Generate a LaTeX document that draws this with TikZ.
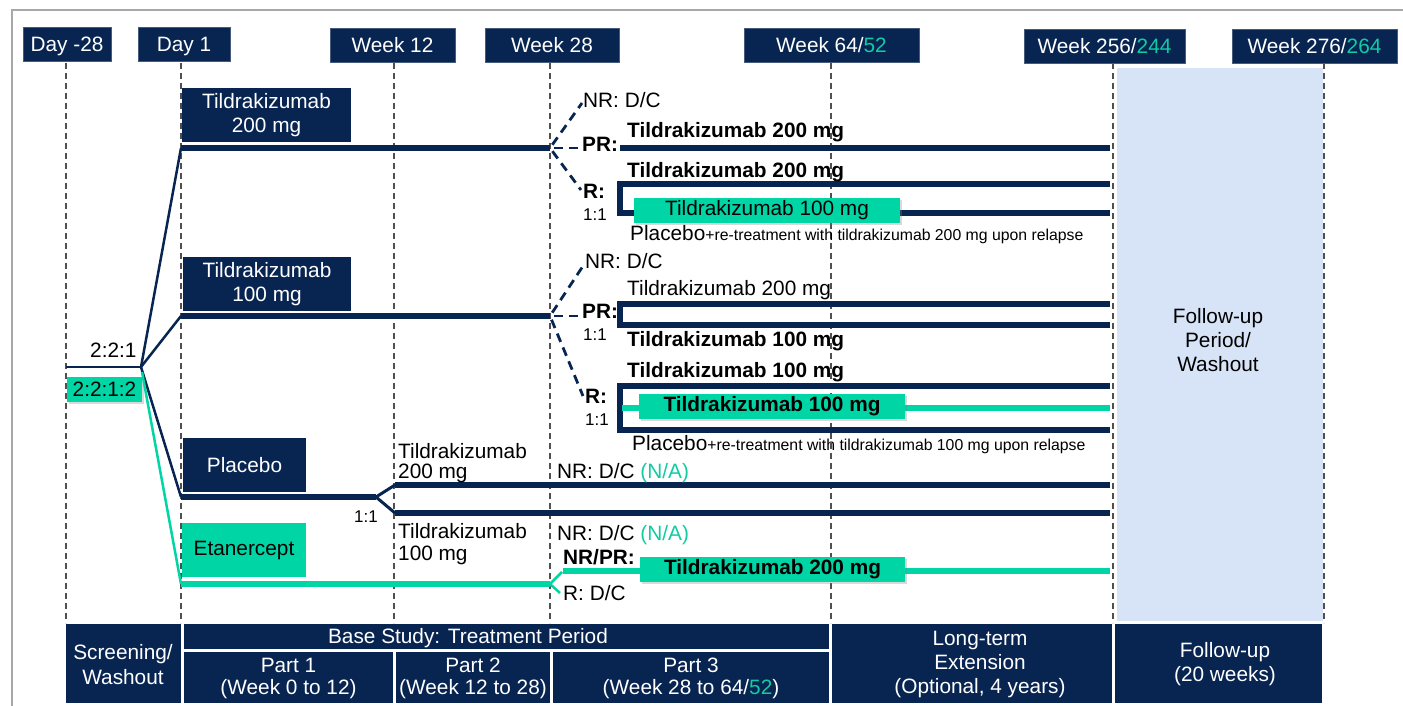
\documentclass[tikz,border=0pt]{standalone}
\usepackage{fontspec}
\setmainfont{Liberation Sans}
\usetikzlibrary{shadows}
\definecolor{navy}{HTML}{082552}
\definecolor{mint}{HTML}{00D5A6}
\definecolor{minttext}{HTML}{12CBA3}
\definecolor{fublue}{HTML}{D7E4F8}
\definecolor{framegray}{HTML}{A8A8A8}
\definecolor{guidegray}{HTML}{505050}
\newcommand\fsMain{\fontsize{20.8}{24}\selectfont}
\newcommand\fsSmall{\fontsize{15.8}{19}\selectfont}
\newcommand\fsRatio{\fontsize{17}{20}\selectfont}
\newcommand\mintc[1]{\textcolor{minttext}{#1}}

\begin{document}
\begin{tikzpicture}[x=1pt,y=-1pt,
  every node/.style={font=\fsMain,inner sep=0pt},
  hdr/.style={fill=navy,draw=navy!75!white,line width=0.8pt,text=white,
    minimum height=34pt,text height=15pt,text depth=0pt},
  armbox/.style={fill=navy,text=white,align=center,minimum height=54pt},
  mintbox/.style={fill=mint,text=black,minimum height=25pt,
    drop shadow={opacity=0.3,shadow xshift=2pt,shadow yshift=-2pt}},
  cell/.style={fill=navy},
  celltext/.style={text=white,anchor=base},
  lbl/.style={anchor=base west},
  blbl/.style={anchor=base west,font=\fsMain\bfseries},
  slbl/.style={anchor=base west,font=\fsRatio},
  guide/.style={draw=guidegray,line width=1.4pt,dash pattern=on 6pt off 4pt},
  fan/.style={draw=navy,line width=2.5pt},
  arm/.style={draw=navy,line width=5.8pt},
  mintarm/.style={draw=mint,line width=5.8pt},
  branch/.style={draw=navy,line width=2.8pt,dash pattern=on 9pt off 6pt,dash phase=-4pt},
]
\useasboundingbox (0,0) rectangle (1403,706);

% outer frame
\draw[framegray,line width=2.5pt] (12,706) -- (12,10) -- (1403,10);

% follow-up period shading
\fill[fublue] (1117,68) rectangle (1323,621);
\node (fuA) at (1218,323) [anchor=base] {Follow-up};
\node (fuB) at (1218,347) [anchor=base] {Period/};
\node (fuC) at (1218,371) [anchor=base] {Washout};

% time-point guides
\foreach \n/\x in {0/66,1/181,2/394,3/550,4/831,5/1113,6/1324}{
  \coordinate (gt\n) at (\x,63);
  \coordinate (gb\n) at (\x,623);
  \draw[guide] (gt\n) -- (gb\n);
}

% time-point headers
\node[hdr,minimum width=88pt]  (hDm28) at (67,44)     {Day -28};
\node[hdr,minimum width=92pt]  (hD1)   at (184,44)    {Day 1};
\node[hdr,minimum width=125pt] (hW12)  at (392.5,45)  {Week 12};
\node[hdr,minimum width=134pt] (hW28)  at (552,45)    {Week 28};
\node[hdr,minimum width=175pt] (hW64)  at (831.5,45)  {Week 64/\mintc{52}};
\node[hdr,minimum width=161pt] (hW256) at (1104.5,46) {Week 256/\mintc{244}};
\node[hdr,minimum width=165pt] (hW276) at (1314.5,46) {Week 276/\mintc{264}};

% randomisation fan
\coordinate (r0) at (66,367);
\coordinate (fanN) at (141,367);
\coordinate (fanM) at (142,372);
\coordinate (a1) at (181,148);
\coordinate (a2) at (181,316);
\coordinate (a3) at (181,497);
\coordinate (a4) at (181,584);
\draw[navy,line width=2pt] (r0) -- (fanN);
\node[lbl] (ratioA) at (90,357) {2:2:1};
\node[mintbox,minimum width=75pt] (ratioB) at (104.5,389.5) {2:2:1:2};
\draw[fan] (fanN) -- (a1);
\draw[fan] (fanN) -- (a2);
\draw[fan] (fanN) -- (a3);
\draw[mint,line width=2.5pt] (fanM) -- (a4);

% arm boxes
\node[armbox,minimum width=169pt] (boxT200) at (266.5,115) {Tildrakizumab\\200 mg};
\node[armbox,minimum width=168pt] (boxT100) at (267,284) {Tildrakizumab\\100 mg};
\node[armbox,minimum width=123pt] (boxPbo) at (244.5,465) {Placebo};
\node[fill=mint,minimum width=124pt,minimum height=54pt] (boxEtn) at (244,550) {Etanercept};

% ---- Tildrakizumab 200 mg arm
\coordinate (w1) at (550,148);
\draw[arm] (a1) -- (w1);
\coordinate (nr1) at (582,103);
\coordinate (pr1) at (578,148);
\coordinate (r1) at (581,190);
\draw[branch] (w1) -- (nr1);
\draw[branch] (w1) -- (pr1);
\draw[branch] (w1) -- (r1);
\node[lbl]  (nr1t) at (583,108) {NR: D/C};
\node[blbl] (pr1t) at (582,152) {PR:};
\node[blbl] (r1t)  at (583,198) {R:};
\node[slbl] (r1q)  at (583,220) {1:1};
\coordinate (pr1a) at (620,148);
\coordinate (pr1b) at (1110,148);
\draw[arm] (pr1a) -- (pr1b);
\node[blbl] (pr1d) at (627,138) {Tildrakizumab 200 mg};
\coordinate (rb1a) at (1110,184);
\coordinate (rb1b) at (620,184);
\coordinate (rb1c) at (620,213);
\coordinate (rb1d) at (1110,213);
\draw[arm] (rb1a) -- (rb1b) -- (rb1c) -- (rb1d);
\node[blbl] (rb1t) at (627,177) {Tildrakizumab 200 mg};
\node[mintbox,minimum width=266pt] (m1) at (767,210) {Tildrakizumab 100 mg};
\node[lbl] (pb1) at (630,240) {Placebo{\fsSmall+re-treatment with tildrakizumab 200 mg upon relapse}};

% ---- Tildrakizumab 100 mg arm
\coordinate (w2) at (550,316);
\draw[arm] (a2) -- (w2);
\coordinate (nr2) at (583,266);
\coordinate (pr2) at (578,316);
\coordinate (r2) at (583,396);
\draw[branch] (w2) -- (nr2);
\draw[branch] (w2) -- (pr2);
\draw[branch] (w2) -- (r2);
\node[lbl]  (nr2t) at (585,268) {NR: D/C};
\node[blbl] (pr2t) at (582,318) {PR:};
\node[slbl] (pr2q) at (583,340) {1:1};
\node[blbl] (r2t)  at (585,403) {R:};
\node[slbl] (r2q)  at (585,425) {1:1};
\coordinate (pb2a) at (1110,304);
\coordinate (pb2b) at (620,304);
\coordinate (pb2c) at (620,325);
\coordinate (pb2d) at (1110,325);
\draw[arm] (pb2a) -- (pb2b) -- (pb2c) -- (pb2d);
\node[lbl]  (pb2u) at (627,295) {Tildrakizumab 200 mg};
\node[blbl] (pb2l) at (627,346) {Tildrakizumab 100 mg};
\coordinate (rb2a) at (1110,386);
\coordinate (rb2b) at (620,386);
\coordinate (rb2c) at (620,430);
\coordinate (rb2d) at (1110,430);
\draw[arm] (rb2a) -- (rb2b) -- (rb2c) -- (rb2d);
\coordinate (rm2a) at (622,408);
\coordinate (rm2b) at (1110,408);
\draw[mintarm] (rm2a) -- (rm2b);
\node[blbl] (rb2t) at (627,377) {Tildrakizumab 100 mg};
\node[mintbox,minimum width=266pt,font=\fsMain\bfseries] (m2) at (772,406.5) {Tildrakizumab 100 mg};
\node[lbl] (pb2) at (632,450) {Placebo{\fsSmall+re-treatment with tildrakizumab 100 mg upon relapse}};

% ---- Placebo arm
\coordinate (w3) at (376,497);
\draw[arm] (a3) -- (w3);
\coordinate (pbU) at (395,485);
\coordinate (pbL) at (395,513);
\coordinate (pbUe) at (1110,485);
\coordinate (pbLe) at (1110,513);
\draw[navy,line width=3pt] (w3) -- (pbU);
\draw[navy,line width=3pt] (w3) -- (pbL);
\draw[arm] (pbU) -- (pbUe);
\draw[arm] (pbL) -- (pbLe);
\node[slbl] (pbq) at (354,522) {1:1};
\node[lbl] (pbU1) at (398,458) {Tildrakizumab};
\node[lbl] (pbU2) at (398,478) {200 mg};
\node[lbl] (pbL1) at (398,538) {Tildrakizumab};
\node[lbl] (pbL2) at (398,560) {100 mg};
\node[lbl] (pbUt) at (557,478) {NR: D/C \mintc{(N/A)}};
\node[lbl] (pbLt) at (557,540) {NR: D/C \mintc{(N/A)}};

% ---- Etanercept arm
\coordinate (w4) at (550,584);
\draw[mintarm] (a4) -- (w4);
\coordinate (etU) at (562,572);
\coordinate (etL) at (560,593);
\draw[mint,line width=2.5pt] (w4) -- (etU);
\draw[mint,line width=2.5pt] (w4) -- (etL);
\coordinate (etA) at (563,571);
\coordinate (etB) at (1110,571);
\draw[mintarm] (etA) -- (etB);
\node[blbl] (etPR) at (563,564) {NR/PR:};
\node[lbl] (etR) at (563,600) {R: D/C};
\node[mintbox,minimum width=265pt,font=\fsMain\bfseries] (m3) at (772.5,569.5) {Tildrakizumab 200 mg};

% ---- period table
\node[cell,minimum width=115pt,minimum height=79pt] (cScr) at (123.5,663.5) {};
\node[cell,minimum width=645pt,minimum height=25pt] (cBase) at (506.5,636.5) {};
\node[cell,minimum width=209pt,minimum height=51pt] (cP1) at (288.5,677.5) {};
\node[cell,minimum width=154pt,minimum height=51pt] (cP2) at (473,677.5) {};
\node[cell,minimum width=276pt,minimum height=51pt] (cP3) at (691,677.5) {};
\node[cell,minimum width=280pt,minimum height=79pt] (cLte) at (972,663.5) {};
\node[cell,minimum width=207pt,minimum height=79pt] (cFu) at (1218.5,663.5) {};

\node[celltext] (tScrA) at (123,659) {Screening/};
\node[celltext] (tScrB) at (123,684) {Washout};
\node[celltext] (tBase) at (468,643) {Base Study: Treatment Period};
\node[celltext] (tP1A) at (288.5,672) {Part 1};
\node[celltext] (tP1B) at (288.5,694) {(Week 0 to 12)};
\node[celltext] (tP2A) at (473,672) {Part 2};
\node[celltext] (tP2B) at (473,694) {(Week 12 to 28)};
\node[celltext] (tP3A) at (691,672) {Part 3};
\node[celltext] (tP3B) at (691,694) {(Week 28 to 64/\mintc{52})};
\node[celltext] (tLteA) at (980,645) {Long-term};
\node[celltext] (tLteB) at (980,669) {Extension};
\node[celltext] (tLteC) at (980,693) {(Optional, 4 years)};
\node[celltext] (tFuA) at (1225,657) {Follow-up};
\node[celltext] (tFuB) at (1225,681) {(20 weeks)};
\end{tikzpicture}
\end{document}
